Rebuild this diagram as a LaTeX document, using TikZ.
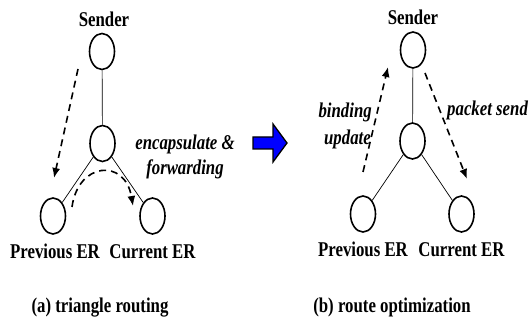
\documentclass[tikz,border=0pt]{standalone}
\usepackage{fontspec}
\newfontfamily\condserif[FakeStretch=0.8]{Liberation Serif}
\usetikzlibrary{arrows.meta,shapes.geometric}
\begin{document}
\begin{tikzpicture}[x=1pt,y=-1pt,
  host/.style={draw, line width=1.6pt, ellipse, minimum width=25pt, minimum height=36pt, inner sep=0pt},
  link/.style={line width=0.7pt},
  flow/.style={line width=1.6pt, dash pattern=on 7pt off 5pt, -{Latex[length=10pt,width=8pt]}},
  lbl/.style={font=\condserif\bfseries\fontsize{21}{23}\selectfont, inner sep=0pt, anchor=base},
  note/.style={font=\condserif\bfseries\itshape\fontsize{21}{23}\selectfont, inner sep=0pt, anchor=base, align=center}]
\useasboundingbox (0,0) rectangle (531,323);

% ---- (a) triangle routing ----
\node[host] (sA) at (102,51.5) {};
\node[host] (mA) at (102.5,143.5) {};
\node[host] (pA) at (53,216) {};
\node[host] (cA) at (152.5,216) {};
\draw[link] (sA) -- (mA);
\draw[link] (mA) -- (pA);
\draw[link] (mA) -- (cA);

\node[lbl] (senderA) at (104,27) {Sender};
\node[lbl] (prevA) at (55,259) {Previous ER};
\node[lbl] (currA) at (152.5,259) {Current ER};
\node[note] (encA) at (185,150) {encapsulate \&};
\node[note] (fwdA) at (185,175) {forwarding};
\node[lbl] (capA) at (100,313) {(a) triangle routing};

\coordinate (dA0) at (78,69);
\coordinate (dA1) at (54,178);
\draw[flow] (dA0) -- (dA1);
\coordinate (fA0) at (72,207);
\coordinate (fA1) at (133,206);
\draw[flow] (fA0) .. controls (78,162) and (125,158) .. (fA1);

% ---- arrow between the two cases ----
\draw[fill=blue, line width=1.3pt, line join=miter]
  (253,137) -- (273,137) -- (273,124) -- (287,143) -- (273,162) -- (273,149) -- (253,149) -- cycle;

% ---- (b) route optimization ----
\node[host] (sB) at (413,50) {};
\node[host] (mB) at (412.5,141) {};
\node[host] (pB) at (363,214) {};
\node[host] (cB) at (461.5,214) {};
\draw[link] (sB) -- (mB);
\draw[link] (mB) -- (pB);
\draw[link] (mB) -- (cB);

\node[lbl] (senderB) at (413,25) {Sender};
\node[lbl] (prevB) at (363,257) {Previous ER};
\node[lbl] (currB) at (461.5,257) {Current ER};
\node[note, anchor=base east] (bindB) at (372,118) {binding};
\node[note, anchor=base east] (updB) at (371,145) {update};
\node[note, anchor=base west] (pktB) at (447,116) {packet send};
\node[lbl] (capB) at (392,313) {(b) route optimization};

\coordinate (bB0) at (363,172);
\coordinate (bB1) at (388,67);
\draw[flow] (bB0) -- (bB1);
\coordinate (kB0) at (425,73);
\coordinate (kB1) at (467,179);
\draw[flow] (kB0) -- (kB1);
\end{tikzpicture}
\end{document}
